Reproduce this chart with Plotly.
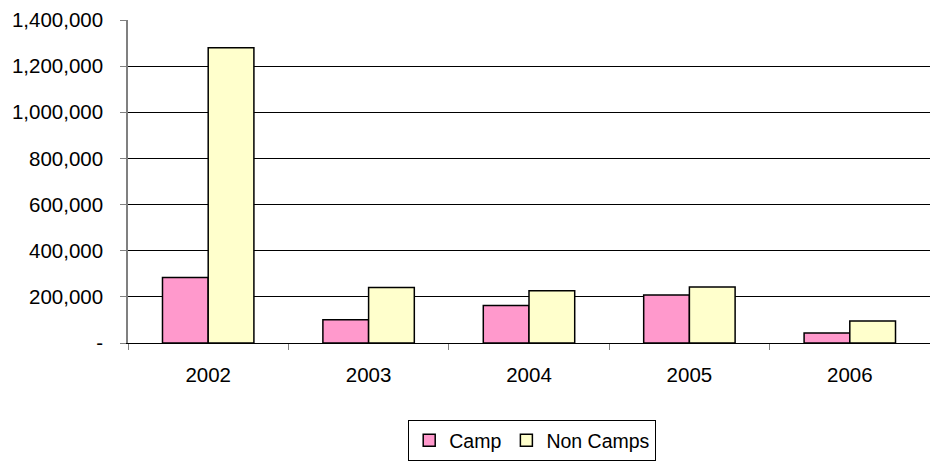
import plotly.graph_objects as go

years = ["2002", "2003", "2004", "2005", "2006"]
camp = [284000, 101000, 163000, 208000, 43000]
non_camps = [1280000, 241000, 227000, 243000, 95000]
y_tick_vals = [0, 200000, 400000, 600000, 800000, 1000000, 1200000, 1400000]
y_tick_text = ["-", "200,000", "400,000", "600,000", "800,000", "1,000,000", "1,200,000", "1,400,000"]

fig = go.Figure()
fig.add_trace(go.Bar(name="Camp", x=years, y=camp,
                     marker=dict(color="#FF99CC", line=dict(color="black", width=1.5))))
fig.add_trace(go.Bar(name="Non Camps", x=years, y=non_camps,
                     marker=dict(color="#FFFFCC", line=dict(color="black", width=1.5))))

fig.update_layout(
    width=930, height=461,
    margin=dict(l=128, r=0, t=20, b=117),
    paper_bgcolor="white", plot_bgcolor="white",
    font=dict(family="Arial, Liberation Sans, sans-serif", size=20.5, color="black"),
    barmode="group", bargap=0.43, bargroupgap=0,
    showlegend=True,
    legend=dict(orientation="h", x=0.504, xanchor="center", y=-0.238, yanchor="top",
                bordercolor="black", borderwidth=1, font=dict(size=19.5),
                itemwidth=30, traceorder="normal"),
)
fig.update_xaxes(type="category", showline=True, linecolor="black", linewidth=1,
                 ticks="outside", ticklen=6, tickcolor="#808080", tickson="boundaries",
                 showgrid=False, ticklabelstandoff=13)
fig.update_yaxes(range=[0, 1400000], tickvals=y_tick_vals, ticktext=y_tick_text,
                 showgrid=True, gridcolor="black", gridwidth=1,
                 showline=True, linecolor="#808080", linewidth=1.5,
                 ticks="outside", ticklen=6, tickcolor="#808080",
                 ticklabelstandoff=13, zeroline=False)

fig.write_html("out.html", config={"displayModeBar": False},
               post_script="document.body.style.margin='0px';document.body.style.overflow='hidden';")
